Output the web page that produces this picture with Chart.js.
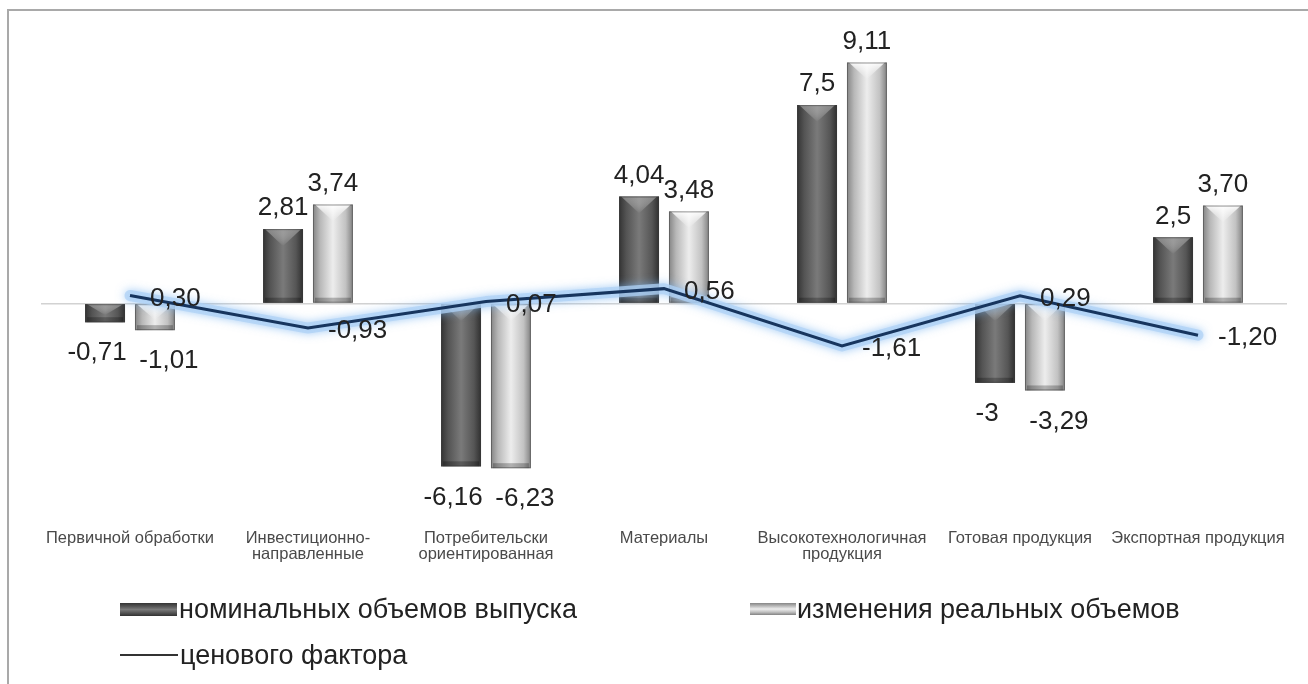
<!DOCTYPE html>
<html>
<head>
<meta charset="utf-8">
<script src="https://cdn.jsdelivr.net/npm/chart.js@4.4.1/dist/chart.umd.min.js"></script>
<style>
  body { margin: 0; background: #fff; }
  #wrap { position: relative; width: 1308px; height: 684px; overflow: hidden; }
  #frame { position: absolute; left: 7px; top: 9px; width: 1310px; height: 690px;
           border-left: 2px solid #a9a9a9; border-top: 2px solid #a9a9a9; }
  #chartBox { position: absolute; left: 0; top: 0; width: 1308px; height: 684px; }
  .lg { position: absolute; font-family: "Liberation Sans", Arial, sans-serif;
        font-size: 27px; color: #222; line-height: 28px; white-space: nowrap; }
  .sym { position: absolute; }
</style>
</head>
<body>
<div id="wrap">
  <div id="frame"></div>
  <div id="chartBox"><canvas id="myChart"></canvas></div>
  <div class="sym" id="sym0" style="left:120px;top:603px;width:57px;height:13px;"></div>
  <div class="lg" id="lg0" style="left:179px;top:595px;"></div>
  <div class="sym" id="sym1" style="left:750px;top:603px;width:46px;height:12px;"></div>
  <div class="lg" id="lg1" style="left:797px;top:595px;"></div>
  <div class="sym" id="sym2" style="left:120px;top:654px;width:58px;height:2px;background:#333;"></div>
  <div class="lg" id="lg2" style="left:180px;top:641px;"></div>
</div>
<script>
const categories = [
  "Первичной обработки",
  ["Инвестиционно-", "направленные"],
  ["Потребительски", "ориентированная"],
  "Материалы",
  ["Высокотехнологичная", "продукция"],
  "Готовая продукция",
  "Экспортная продукция"
];
const nominalValues = [-0.71, 2.81, -6.16, 4.04, 7.5, -3, 2.5];
const realValues = [-1.01, 3.74, -6.23, 3.48, 9.11, -3.29, 3.70];
const priceValues = [0.30, -0.93, 0.07, 0.56, -1.61, 0.29, -1.20];
const seriesNames = ["номинальных объемов выпуска", "изменения реальных объемов", "ценового фактора"];
const yMin = -8;
const yMax = 10;

const darkStops = ["#343434", "#545454", "#7a7a7a", "#565656", "#303030"];
const lightStops = ["#858585", "#b8b8b8", "#ededed", "#c2c2c2", "#828282"];

// legend (html)
seriesNames.forEach((n, i) => { document.getElementById("lg" + i).textContent = n; });
function cssGrad(stops) {
  return "linear-gradient(to bottom," + stops.join(",") + ")";
}
document.getElementById("sym0").style.background = cssGrad(darkStops);
document.getElementById("sym1").style.background = cssGrad(lightStops);

function fmt(v, fixed) {
  return (fixed ? v.toFixed(2) : String(v)).replace(".", ",");
}

// 3d-ish bars: gradient + bevel on top
const bevelBars = {
  id: "bevelBars",
  afterDatasetDraw(chart, args) {
    const meta = args.meta;
    if (meta.type !== "bar") return;
    const c = chart.ctx;
    const stops = meta.index === 1 ? darkStops : lightStops;
    const vColor = meta.index === 1 ? "rgba(175,175,175,0.6)" : "rgba(255,255,255,0.95)";
    meta.data.forEach(el => {
      const left = el.x - el.width / 2;
      const right = el.x + el.width / 2;
      const top = Math.min(el.y, el.base);
      const bottom = Math.max(el.y, el.base);
      const h = bottom - top;
      c.save();
      const g = c.createLinearGradient(left, 0, right, 0);
      g.addColorStop(0, stops[0]);
      g.addColorStop(0.18, stops[1]);
      g.addColorStop(0.5, stops[2]);
      g.addColorStop(0.82, stops[3]);
      g.addColorStop(1, stops[4]);
      c.fillStyle = g;
      c.fillRect(left, top, el.width, h);
      // top chevron
      const depth = Math.min(el.width * 0.42, h * 0.6);
      const vg = c.createLinearGradient(0, top, 0, top + depth);
      vg.addColorStop(0, vColor);
      vg.addColorStop(1, "rgba(255,255,255,0)");
      c.fillStyle = vg;
      c.beginPath();
      c.moveTo(left + 2, top);
      c.lineTo(right - 2, top);
      c.lineTo(el.x, top + depth);
      c.closePath();
      c.fill();
      // bottom shade
      const bh = Math.min(5, h * 0.3);
      c.fillStyle = "rgba(0,0,0,0.25)";
      c.fillRect(left + 2, bottom - bh, el.width - 4, bh);
      c.strokeStyle = "rgba(60,60,60,0.5)";
      c.lineWidth = 1;
      c.strokeRect(left + 0.5, top + 0.5, el.width - 1, h - 1);
      c.restore();
    });
  }
};

// light blue glow band under the price line
const glowLine = {
  id: "glowLine",
  beforeDatasetDraw(chart, args) {
    if (args.meta.type !== "line") return;
    const c = chart.ctx;
    const pts = args.meta.data;
    c.save();
    c.lineJoin = "round";
    c.lineCap = "round";
    c.shadowColor = "rgba(120,180,240,0.9)";
    c.shadowBlur = 10;
    c.strokeStyle = "rgba(175,210,245,0.75)";
    c.lineWidth = 11;
    c.beginPath();
    pts.forEach((p, i) => (i ? c.lineTo(p.x, p.y) : c.moveTo(p.x, p.y)));
    c.stroke();
    c.restore();
  }
};

// value labels
const valueLabels = {
  id: "valueLabels",
  afterDatasetsDraw(chart) {
    const c = chart.ctx;
    c.save();
    c.font = "26px 'Liberation Sans', Arial, sans-serif";
    c.fillStyle = "#222";
    c.textBaseline = "middle";
    chart.data.datasets.forEach((ds, di) => {
      const meta = chart.getDatasetMeta(di);
      meta.data.forEach((el, i) => {
        const v = ds.data[i];
        const txt = fmt(v, ds.fixedLabels);
        if (meta.type === "bar") {
          c.textAlign = "center";
          const top = Math.min(el.y, el.base);
          const bottom = Math.max(el.y, el.base);
          if (v >= 0) c.fillText(txt, el.x, top - 21);
          else c.fillText(txt, el.x + (di === 1 ? -8 : 14), bottom + 31);
        } else {
          c.textAlign = "left";
          c.fillText(txt, el.x + 20, el.y + 3);
        }
      });
    });
    c.restore();
  }
};

new Chart(document.getElementById("myChart"), {
  data: {
    labels: categories,
    datasets: [
      {
        type: "line",
        label: seriesNames[2],
        data: priceValues,
        borderColor: "#17355e",
        borderWidth: 3,
        pointRadius: 0,
        tension: 0,
        fixedLabels: true,
        order: 0
      },
      {
        type: "bar",
        label: seriesNames[0],
        data: nominalValues,
        backgroundColor: "#555",
        categoryPercentage: 0.56,
        barPercentage: 0.8,
        fixedLabels: false,
        order: 1
      },
      {
        type: "bar",
        label: seriesNames[1],
        data: realValues,
        backgroundColor: "#ccc",
        categoryPercentage: 0.56,
        barPercentage: 0.8,
        fixedLabels: true,
        order: 1
      }
    ]
  },
  options: {
    responsive: true,
    maintainAspectRatio: false,
    animation: false,
    layout: { padding: { left: 41, right: 21, top: 39, bottom: 106 } },
    plugins: { legend: { display: false }, tooltip: { enabled: false } },
    scales: {
      x: {
        grid: { display: false, drawTicks: false },
        border: { display: false },
        ticks: {
          color: "#4a4a4a",
          font: { family: "'Liberation Sans', Arial, sans-serif", size: 16.5, lineHeight: 1 },
          padding: 15,
          maxRotation: 0,
          autoSkip: false
        }
      },
      y: {
        min: yMin,
        max: yMax,
        border: { display: false },
        ticks: { display: false, stepSize: 2 },
        grid: {
          drawTicks: false,
          lineWidth: 1.5,
          color: (ctx) => (ctx.tick && ctx.tick.value === 0 ? "#d2d2d2" : "rgba(0,0,0,0)")
        }
      }
    }
  },
  plugins: [bevelBars, glowLine, valueLabels]
});
</script>
</body>
</html>
